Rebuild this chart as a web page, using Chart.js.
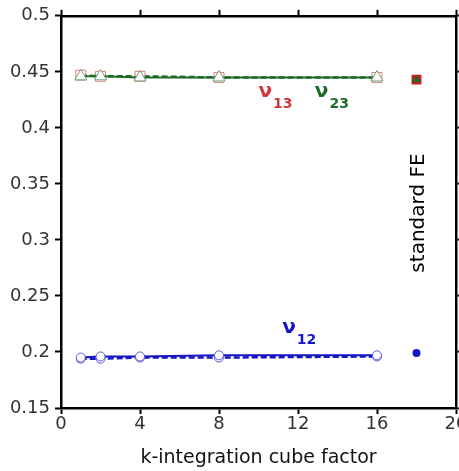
<!DOCTYPE html>
<html>
<head>
<meta charset="utf-8">
<script src="https://cdn.jsdelivr.net/npm/chart.js@4/dist/chart.umd.min.js"></script>
<style>
  html, body { margin: 0; padding: 0; background: #fff; overflow: hidden; }
  canvas { display: block; }
</style>
</head>
<body>
<canvas id="poissonChart" width="470" height="471"></canvas>
<script>
// k-integration cube factor runs
const kFactor = [1, 2, 4, 8, 16];
const nu13 = [0.447, 0.446, 0.446, 0.445, 0.445];
const nu23 = [0.446, 0.446, 0.445, 0.445, 0.445];
const nu12 = [0.195, 0.196, 0.196, 0.197, 0.197];
const nu12Dashed = [0.194, 0.194, 0.195, 0.195, 0.196];

// standard FE reference values
const feX = 18;
const feNu13 = 0.443;
const feNu23 = 0.443;
const feNu12 = 0.199;

const xTicks = [0, 4, 8, 12, 16, 20];
const yTicks = [0.15, 0.2, 0.25, 0.3, 0.35, 0.4, 0.45, 0.5];

const RED = '#d0363c';
const GREEN = '#1e6b2a';
const BLUE = '#1515c8';
const FONT = "'DejaVu Sans', Arial, sans-serif";

const pts = (xs, ys) => xs.map((x, i) => ({ x: x, y: ys[i] }));

// Greek labels and the rotated "standard FE" note
const labelPlugin = {
    id: 'labels',
    afterDatasetsDraw(chart) {
        const ctx = chart.ctx;
        const sx = chart.scales.x;
        const sy = chart.scales.y;
        const nu = (x, y, sub, color) => {
            const px = sx.getPixelForValue(x);
            const py = sy.getPixelForValue(y);
            ctx.save();
            ctx.fillStyle = color;
            ctx.textBaseline = 'alphabetic';
            ctx.textAlign = 'left';
            ctx.font = 'bold 20px ' + FONT;
            ctx.fillText('ν', px, py);
            const w = ctx.measureText('ν').width;
            ctx.font = 'bold 14px ' + FONT;
            ctx.fillText(sub, px + w + 1, py + 11);
            ctx.restore();
        };
        nu(10.0, 0.4275, '13', RED);
        nu(12.85, 0.4275, '23', GREEN);
        nu(11.2, 0.2165, '12', BLUE);

        ctx.save();
        ctx.translate(sx.getPixelForValue(18.6), sy.getPixelForValue(0.324));
        ctx.rotate(-Math.PI / 2);
        ctx.fillStyle = '#000';
        ctx.font = '20px ' + FONT;
        ctx.textAlign = 'center';
        ctx.textBaseline = 'bottom';
        ctx.fillText('standard FE', 0, 0);
        ctx.restore();
    }
};

const frameGrid = { drawOnChartArea: false, drawTicks: true, tickLength: 6, tickWidth: 2, tickColor: '#000' };
const frameBorder = { display: true, color: '#000', width: 2.5 };

new Chart(document.getElementById('poissonChart').getContext('2d'), {
    type: 'scatter',
    data: {
        datasets: [
            {
                data: pts(kFactor, nu23), showLine: true,
                borderColor: GREEN, borderWidth: 2,
                pointStyle: 'triangle', pointRadius: 7,
                pointBackgroundColor: '#fff', pointBorderColor: '#6aa874', pointBorderWidth: 1
            },
            {
                data: pts(kFactor, nu13), showLine: true,
                borderColor: GREEN, borderWidth: 2.5, borderDash: [6, 3],
                pointStyle: 'rect', pointRadius: 7,
                pointBackgroundColor: '#fff', pointBorderColor: '#e07a7a', pointBorderWidth: 1
            },
            {
                data: pts(kFactor, nu12), showLine: true,
                borderColor: BLUE, borderWidth: 2,
                pointStyle: 'circle', pointRadius: 4.5,
                pointBackgroundColor: '#fff', pointBorderColor: '#5a5ad8', pointBorderWidth: 1
            },
            {
                data: pts(kFactor, nu12Dashed), showLine: true,
                borderColor: BLUE, borderWidth: 2.5, borderDash: [6, 3],
                pointStyle: 'circle', pointRadius: 4.5,
                pointBackgroundColor: '#fff', pointBorderColor: '#5a5ad8', pointBorderWidth: 1
            },
            {
                data: [{ x: feX, y: feNu23 }],
                pointStyle: 'triangle', pointRadius: 5,
                pointBackgroundColor: GREEN, pointBorderColor: GREEN, pointBorderWidth: 0
            },
            {
                data: [{ x: feX, y: feNu13 }],
                pointStyle: 'rect', pointRadius: 7,
                pointBackgroundColor: '#c81e1e', pointBorderColor: '#c81e1e', pointBorderWidth: 0
            },
            {
                data: [{ x: feX, y: feNu12 }],
                pointStyle: 'circle', pointRadius: 4,
                pointBackgroundColor: BLUE, pointBorderColor: BLUE, pointBorderWidth: 0
            }
        ]
    },
    options: {
        responsive: false,
        animation: false,
        layout: { padding: 0 },
        plugins: { legend: { display: false }, tooltip: { enabled: false } },
        scales: {
            x: {
                type: 'linear', position: 'bottom', min: 0, max: 20,
                afterBuildTicks: (s) => { s.ticks = xTicks.map(v => ({ value: v })); },
                afterFit: (s) => { s.height = 63; },
                grid: frameGrid, border: frameBorder,
                ticks: { color: '#333', font: { family: FONT, size: 18 }, padding: 0, maxRotation: 0 },
                title: { display: true, text: 'k-integration cube factor', color: '#111',
                         font: { family: FONT, size: 19 }, padding: { top: 0, bottom: 2 } }
            },
            y: {
                type: 'linear', position: 'left', min: 0.15, max: 0.5,
                afterBuildTicks: (s) => { s.ticks = yTicks.map(v => ({ value: v })); },
                afterFit: (s) => { s.width = 61; },
                grid: frameGrid, border: frameBorder,
                ticks: { color: '#333', font: { family: FONT, size: 18 }, padding: 5,
                         callback: (v) => String(+v.toFixed(2)) }
            },
            xTop: {
                type: 'linear', position: 'top', min: 0, max: 20,
                afterBuildTicks: (s) => { s.ticks = xTicks.map(v => ({ value: v })); },
                afterFit: (s) => { s.height = 13; },
                grid: frameGrid, border: frameBorder,
                ticks: { display: false }
            },
            yRight: {
                type: 'linear', position: 'right', min: 0.15, max: 0.5,
                afterBuildTicks: (s) => { s.ticks = yTicks.map(v => ({ value: v })); },
                afterFit: (s) => { s.width = 14; },
                grid: frameGrid, border: frameBorder,
                ticks: { display: false }
            }
        }
    },
    plugins: [labelPlugin]
});
</script>
</body>
</html>
